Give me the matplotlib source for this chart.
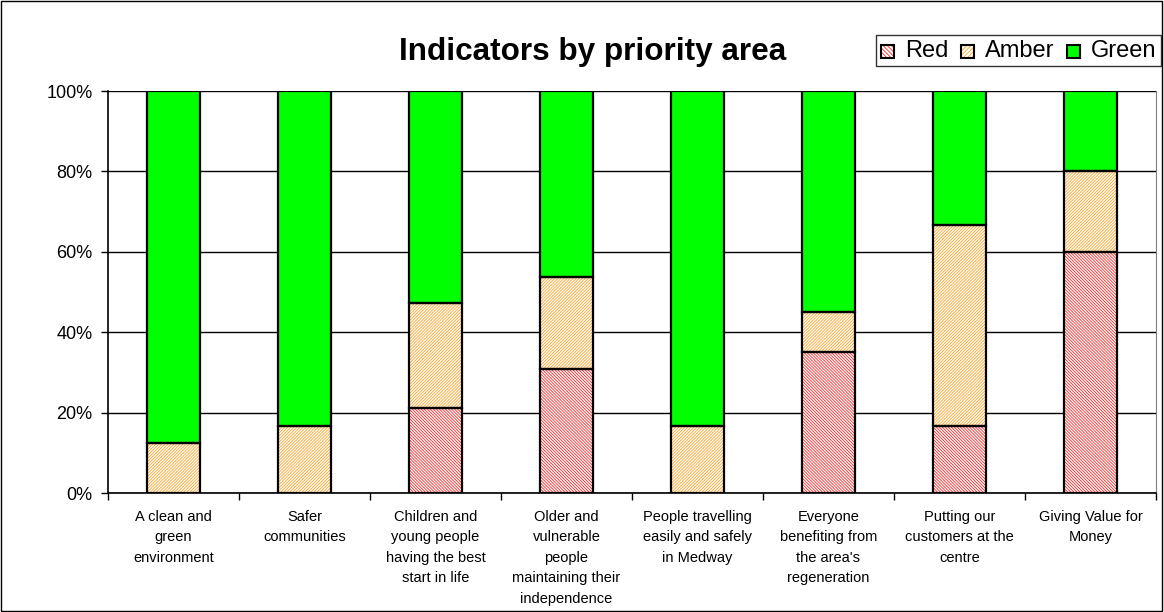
import matplotlib
matplotlib.use("Agg")
import matplotlib.pyplot as plt
import matplotlib.patches as mpatches
import numpy as np
from matplotlib.ticker import PercentFormatter

categories = ["A clean and\ngreen\nenvironment", "Safer\ncommunities",
              "Children and\nyoung people\nhaving the best\nstart in life",
              "Older and\nvulnerable\npeople\nmaintaining their\nindependence",
              "People travelling\neasily and safely\nin Medway",
              "Everyone\nbenefiting from\nthe area's\nregeneration",
              "Putting our\ncustomers at the\ncentre", "Giving Value for\nMoney"]
red = [0.0, 0.0, 21.05, 30.77, 0.0, 35.0, 16.67, 60.0]
amber = [12.5, 16.67, 26.32, 23.08, 16.67, 10.0, 50.0, 20.0]
green = [87.5, 83.33, 52.63, 46.15, 83.33, 55.0, 33.33, 20.0]

plt.rcParams['font.family'] = ['Liberation Sans', 'DejaVu Sans']
plt.rcParams['hatch.linewidth'] = 0.6

RED_H = '#FF2828'
AMB_H = '#FFA428'
RED_PAT = '\\' * 11
AMB_PAT = '/' * 11

fig = plt.figure(figsize=(11.64, 6.12), dpi=100)
fig.patches.append(plt.Rectangle((0.001, 0.002), 0.997, 0.996, transform=fig.transFigure,
                                 fill=False, edgecolor='black', linewidth=1.0))
ax = fig.add_axes([108/1164, 1-493/612, (1156-108)/1164, (493-91)/612])

x = np.arange(len(categories))
w = 0.4
r = np.array(red); a = np.array(amber); g = np.array(green)

def hatched_bar(vals, bottom, hcol, pat):
    return ax.bar(x, vals, w, bottom=bottom, color='white', edgecolor=hcol, hatch=pat,
                  linewidth=0, zorder=3)

b1 = hatched_bar(r, None, RED_H, RED_PAT)
b2 = hatched_bar(a, r, AMB_H, AMB_PAT)
b3 = ax.bar(x, g, w, bottom=r+a, color='#00FF00', linewidth=0, zorder=3)
for bars, vals in ((b1, r), (b2, a), (b3, g)):
    for rect, v in zip(bars, vals):
        if v > 0:
            ax.add_patch(plt.Rectangle((rect.get_x(), rect.get_y()), rect.get_width(), rect.get_height(),
                                       fill=False, edgecolor='black', linewidth=1.6, zorder=4))

ax.set_xlim(-0.5, len(categories)-0.5)
ax.set_ylim(0, 100)
ax.set_yticks(np.arange(0, 101, 20))
ax.yaxis.set_major_formatter(PercentFormatter(decimals=0))
ax.grid(axis='y', color='black', linewidth=1.0, zorder=0)
ax.set_axisbelow(True)
ax.set_xticks(x)
ax.set_xticklabels(categories, fontsize=10.5, linespacing=1.6)
ax.set_xticks(np.arange(-0.5, len(categories), 1), minor=True)
ax.tick_params(axis='x', which='major', length=0, pad=12)
ax.tick_params(axis='x', which='minor', length=5, width=1, direction='out')
ax.tick_params(axis='y', labelsize=13, length=5, width=1, direction='out', pad=6)
ax.spines['top'].set_visible(False)
ax.spines['right'].set_color('#808080')
ax.spines['left'].set_linewidth(1.2)
ax.spines['bottom'].set_linewidth(1.2)

fig.text(593/1164, 1-52/612, "Indicators by priority area", fontsize=22.7, fontweight='bold',
         ha='center', va='center')

class HatchHandler:
    def __init__(self, color, hcol, pat):
        self.color, self.hcol, self.pat = color, hcol, pat
    def legend_artist(self, legend, orig_handle, fontsize, handlebox):
        x0, y0 = handlebox.xdescent, handlebox.ydescent
        wd, ht = handlebox.width, handlebox.height
        s = min(wd, ht)
        p = mpatches.Rectangle((x0, y0), s, s, facecolor=self.color,
                               edgecolor=self.hcol if self.pat else 'black',
                               hatch=self.pat, linewidth=0, transform=handlebox.get_transform())
        o = mpatches.Rectangle((x0, y0), s, s, fill=False, edgecolor='black', linewidth=1.5,
                               transform=handlebox.get_transform())
        handlebox.add_artist(p)
        handlebox.add_artist(o)
        return p

hr = mpatches.Patch(label='Red'); ha_ = mpatches.Patch(label='Amber'); hg = mpatches.Patch(label='Green')
leg = fig.legend(handles=[hr, ha_, hg], loc='upper right', bbox_to_anchor=(1161/1164, 1-35/612),
                 ncol=3, fontsize=17, frameon=True, fancybox=False, edgecolor='black',
                 handlelength=0.55, handleheight=0.55, handletextpad=0.45, columnspacing=0.55,
                 borderpad=0.2, borderaxespad=0,
                 handler_map={hr: HatchHandler('white', RED_H, '\\' * 8),
                              ha_: HatchHandler('white', AMB_H, '/' * 8),
                              hg: HatchHandler('#00FF00', 'black', None)})
leg.get_frame().set_linewidth(1.0)
fig.savefig("out.png", dpi=100)
